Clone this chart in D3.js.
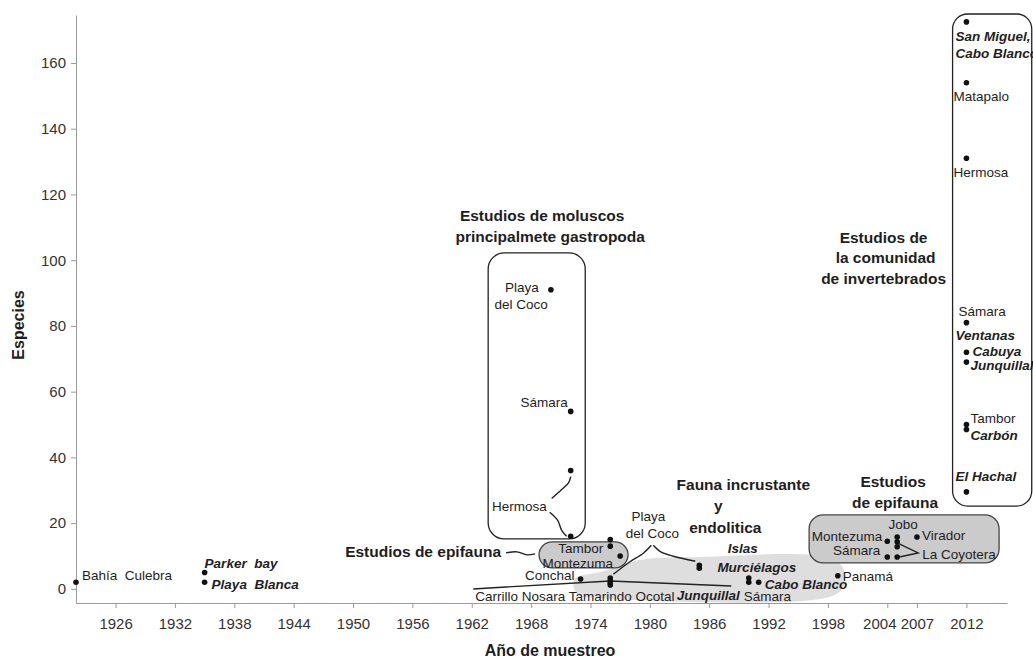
<!DOCTYPE html>
<html>
<head>
<meta charset="utf-8">
<script src="https://cdn.jsdelivr.net/npm/d3@7"></script>
<style>
body { margin: 0; background: #fff; }
text { font-family: "Liberation Sans", Arial, sans-serif; fill: #1e1e1e; }
</style>
</head>
<body>
<svg id="chart" width="1033" height="658"></svg>
<script>
// Tick values.
const xTickYears = [1926, 1932, 1938, 1944, 1950, 1956, 1962, 1968, 1974, 1980, 1986, 1992, 1998, 2004, 2007, 2012];
const yTickValues = [0, 20, 40, 60, 80, 100, 120, 140, 160];

// Surveys: [site, year, species].
const earlySurveys = [
    ["Bahía Culebra", 1922, 2],
    ["Parker bay", 1935, 5],
    ["Playa Blanca", 1935, 2]
];
const molluscSurveys = [
    ["Playa del Coco", 1970, 91],
    ["Sámara", 1972, 54],
    ["Hermosa", 1972, 36],
    ["Hermosa", 1972, 16]
];
const epifaunaSurveys1976 = [
    ["Tambor", 1976, 15],
    ["Tambor", 1976, 13],
    ["Montezuma", 1977, 10]
];
const encrustingSurveys = [
    ["Conchal", 1973, 3],
    ["Carrillo", 1976, 3.3],
    ["Nosara", 1976, 2.5],
    ["Tamarindo", 1976, 1.8],
    ["Ocotal", 1976, 1.2],
    ["Playa del Coco", 1985, 7.2],
    ["Playa del Coco", 1985, 6.3],
    ["Islas Murciélagos", 1990, 3.3],
    ["Sámara", 1990, 2],
    ["Cabo Blanco", 1991, 2],
    ["Panamá", 1999, 4]
];
const epifaunaSurveys2004 = [
    ["Montezuma", 2004, 14.5],
    ["Sámara", 2004, 9.7],
    ["Jobo", 2005, 15.8],
    ["Jobo", 2005, 14.3],
    ["Jobo", 2005, 12.8],
    ["La Coyotera", 2005, 9.7],
    ["Virador", 2007, 15.8]
];
const invertebrateSurveys = [
    ["San Miguel, Cabo Blanco", 2012, 172.5],
    ["Matapalo", 2012, 154],
    ["Hermosa", 2012, 131],
    ["Sámara", 2012, 81],
    ["Cabuya", 2012, 72],
    ["Junquillal", 2012, 69],
    ["Tambor", 2012, 50],
    ["Carbón", 2012, 48.5],
    ["El Hachal", 2012, 29.5]
];

const svg = d3.select("#chart");

const x = d3.scaleLinear().domain([1922, 2016.1]).range([76, 1007]);
const y = d3.scaleLinear().domain([-4.3, 174.6]).range([603, 15]);

// Study groups, [year0, year1, value0, value1] in data space.
const groupBoxes = [
    { ext: [1963.66, 1973.47, 15.2, 102.2], r: 16, fill: "none", stroke: "#222" },
    { ext: [1968.8, 1977.8, 6.4, 14.3], r: 13, fill: "#cbcbcb", stroke: "#444" },
    { ext: [1996.1, 2015.3, 7.9, 22.5], r: 14, fill: "#cbcbcb", stroke: "#444" },
    { ext: [2010.6, 2018.6, 25.2, 174.9], r: 15, fill: "none", stroke: "#222" }
];

// Outline of the light shading behind the encrusting fauna surveys.
const encrustingArea = [
    [1972.4, 3.0], [1975, 5.1], [1979, 8.8], [1985, 9.7], [1997.7, 9.7],
    [1999.5, 6.5], [1999.5, 0.3], [1997.7, -2.8], [1975, -2.8], [1972.6, -1.5]
];

// Shaded area first so everything sits on top of it.
svg.append("path")
    .datum(encrustingArea)
    .attr("d", d3.line().x(d => x(d[0])).y(d => y(d[1])).curve(d3.curveCatmullRomClosed.alpha(0.5)))
    .attr("fill", "#dedede");

groupBoxes.forEach(function(b) {
    svg.append("rect")
        .attr("x", x(b.ext[0]))
        .attr("y", y(b.ext[3]))
        .attr("width", x(b.ext[1]) - x(b.ext[0]))
        .attr("height", y(b.ext[2]) - y(b.ext[3]))
        .attr("rx", b.r)
        .attr("fill", b.fill)
        .attr("stroke", b.stroke)
        .attr("stroke-width", 1.3);
});

// Axes.
const xAxis = svg.append("g")
    .attr("transform", "translate(0," + y.range()[0] + ")")
    .call(d3.axisBottom(x).tickValues(xTickYears).tickFormat(d3.format("d"))
        .tickSize(5).tickSizeOuter(0).tickPadding(10));
xAxis.selectAll("text").filter(d => d == 2004).attr("dx", -8);

const yAxis = svg.append("g")
    .attr("transform", "translate(" + x.range()[0] + ",0)")
    .call(d3.axisLeft(y).tickValues(yTickValues).tickSize(5).tickSizeOuter(0).tickPadding(5));

[xAxis, yAxis].forEach(function(a) {
    a.selectAll("path, line").attr("stroke", "#9a9a9a");
    a.selectAll("text").style("font-size", "15px").style("fill", "#333");
});

svg.append("text")
    .attr("transform", "translate(18,325) rotate(-90)")
    .attr("text-anchor", "middle")
    .attr("dominant-baseline", "central")
    .style("font-size", "16px").style("font-weight", "bold")
    .text("Especies");

svg.append("text")
    .attr("x", 550).attr("y", 650)
    .attr("text-anchor", "middle")
    .attr("dominant-baseline", "central")
    .style("font-size", "16px").style("font-weight", "bold")
    .text("Año de muestreo");

// Connector lines: anchor [year, value] plus pixel offsets.
const connectors = [
    [1972, 36, [[0, 6], [-2, 12], [-9, 19], [-19, 28]]],
    [1972, 16, [[-21, -24], [-13, -16], [-9, -6], [-4, 0]]],
    [1968.8, 14.3, [[-33, 11], [-22, 10], [-12, 13], [-4, 12]]],
    [1976, 1.8, [[-137, 6], [0, -2], [121, 3]]],
    [1985, 7.2, [[-48, -20], [-56, -12], [-70, -3], [-86, 9]]],
    [1985, 7.2, [[-46, -20], [-38, -13], [-26, -9], [-4, -4]]],
    [2005, 9.7, [[0, -14], [21, -4], [2, 0]]]
];

connectors.forEach(function(c) {
    const x0 = x(c[0]), y0 = y(c[1]);
    const curve = c[2].length == 3 ? d3.curveLinear : d3.curveCatmullRom;
    svg.append("path")
        .attr("d", d3.line().x(d => x0 + d[0]).y(d => y0 + d[1]).curve(curve)(c[2]))
        .attr("fill", "none")
        .attr("stroke", "#222")
        .attr("stroke-width", 1.4);
});

// Dots.
const allSurveys = [].concat(earlySurveys, molluscSurveys, epifaunaSurveys1976,
    encrustingSurveys, epifaunaSurveys2004, invertebrateSurveys);

svg.append("g").selectAll("circle")
    .data(allSurveys)
    .join("circle")
    .attr("cx", d => x(d[1]))
    .attr("cy", d => y(d[2]))
    .attr("r", 2.8)
    .attr("fill", "#111");

// Site labels: text, anchor year, anchor value, dx, dy, text-anchor, bold italic?
const siteLabels = [
    ["Bahía  Culebra", 1922, 2, 6, -7, "start", false],
    ["Parker  bay", 1935, 5, 0, -9, "start", true],
    ["Playa  Blanca", 1935, 2, 7, 2, "start", true],
    ["Playa", 1970, 91, -12, -2, "end", false],
    ["del Coco", 1970, 91, -3, 15, "end", false],
    ["Sámara", 1972, 54, -3, -9, "end", false],
    ["Hermosa", 1972, 16, -24, -30, "end", false],
    ["Tambor", 1976, 15, -7, 9, "end", false],
    ["Montezuma", 1977, 10, -7, 8, "end", false],
    ["Conchal", 1973, 3, -6, -4, "end", false],
    ["Carrillo Nosara Tamarindo Ocotal", 1976, 1.2, -135, 12, "start", false],
    ["Junquillal", 1990, 2, -72, 13, "start", true],
    ["Sámara", 1990, 2, -5, 14, "start", false],
    ["Islas", 1990, 3.3, -6, -30, "middle", true],
    ["Murciélagos", 1990, 3.3, 8, -11, "middle", true],
    ["Cabo Blanco", 1991, 2, 6, 2, "start", true],
    ["Panamá", 1999, 4, 5, 1, "start", false],
    ["Playa", 1985, 7.2, -51, -49, "middle", false],
    ["del Coco", 1985, 7.2, -47, -32, "middle", false],
    ["Montezuma", 2004, 14.5, -5, -5, "end", false],
    ["Sámara", 2004, 9.7, -7, -6, "end", false],
    ["Jobo", 2005, 15.8, 6, -12, "middle", false],
    ["Virador", 2007, 15.8, 5, -1, "start", false],
    ["La Coyotera", 2005, 9.7, 25, -2, "start", false],
    ["San Miguel,", 2012, 172.5, -11, 15, "start", true],
    ["Cabo Blanco", 2012, 172.5, -11, 32, "start", true],
    ["Matapalo", 2012, 154, -13, 14, "start", false],
    ["Hermosa", 2012, 131, -13, 14, "start", false],
    ["Sámara", 2012, 81, -8, -11, "start", false],
    ["Ventanas", 2012, 81, -11, 13, "start", true],
    ["Cabuya", 2012, 72, 6, -1, "start", true],
    ["Junquillal", 2012, 69, 4, 3, "start", true],
    ["Tambor", 2012, 50, 4, -6, "start", false],
    ["Carbón", 2012, 48.5, 4, 6, "start", true],
    ["El Hachal", 2012, 29.5, -11, -15, "start", true]
];

svg.append("g").selectAll("text")
    .data(siteLabels)
    .join("text")
    .attr("x", d => x(d[1]) + d[3])
    .attr("y", d => y(d[2]) + d[4])
    .attr("text-anchor", d => d[5])
    .attr("dominant-baseline", "central")
    .style("white-space", "pre")
    .style("font-size", "13.5px")
    .style("font-weight", d => d[6] ? "bold" : "normal")
    .style("font-style", d => d[6] ? "italic" : "normal")
    .text(d => d[0]);

// Group titles: text, anchor year, anchor value, dx, dy, text-anchor.
const groupTitles = [
    ["Estudios de moluscos", 1963.66, 102.2, 54, -37, "middle"],
    ["principalmete gastropoda", 1963.66, 102.2, 62, -16, "middle"],
    ["Estudios de", 2010.6, 174.9, -69, 223, "middle"],
    ["la comunidad", 2010.6, 174.9, -67, 243, "middle"],
    ["de invertebrados", 2010.6, 174.9, -69, 264, "middle"],
    ["Fauna incrustante", 1985, 7.2, 44, -81, "middle"],
    ["y", 1985, 7.2, 19, -60, "middle"],
    ["endolitica", 1985, 7.2, 26, -38, "middle"],
    ["Estudios", 1996.1, 22.5, 84, -33, "middle"],
    ["de epifauna", 1996.1, 22.5, 86, -12, "middle"],
    ["Estudios de epifauna", 1968.8, 14.3, -38, 10, "end"]
];

svg.append("g").selectAll("text")
    .data(groupTitles)
    .join("text")
    .attr("x", d => x(d[1]) + d[3])
    .attr("y", d => y(d[2]) + d[4])
    .attr("text-anchor", d => d[5])
    .attr("dominant-baseline", "central")
    .style("font-size", "15.5px")
    .style("font-weight", "bold")
    .text(d => d[0]);
</script>
</body>
</html>
